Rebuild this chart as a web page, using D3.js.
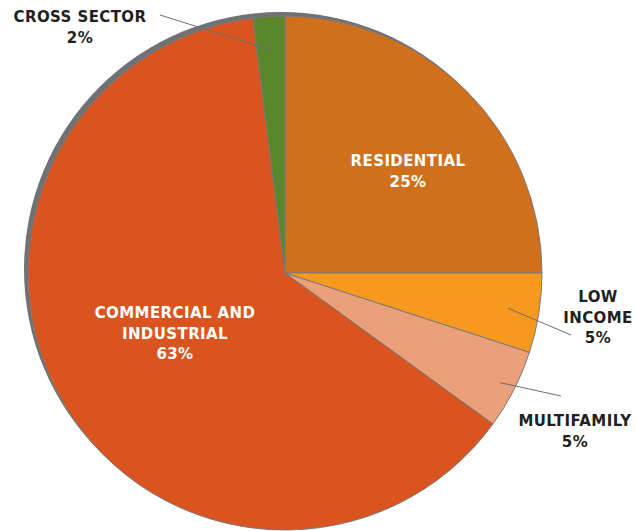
<!DOCTYPE html>
<html>
<head>
<meta charset="utf-8">
<script src="https://cdn.jsdelivr.net/npm/d3@7"></script>
<style>
  html, body { margin: 0; padding: 0; background: #fff; }
  svg text { font-family: "DejaVu Sans", sans-serif; font-weight: bold; font-size: 15px; letter-spacing: 0.4px; }
</style>
</head>
<body>
<svg id="chart" width="636" height="531"></svg>
<script>
// Program share by sector, clockwise from 12 o'clock
const sectors = ["Residential", "Low Income", "Multifamily", "Commercial and Industrial", "Cross Sector"];
const shares = [25, 5, 5, 63, 2];
const labelLines = [["RESIDENTIAL"], ["LOW", "INCOME"], ["MULTIFAMILY"], ["COMMERCIAL AND", "INDUSTRIAL"], ["CROSS SECTOR"]];
const colors = ["#D0701C", "#F7981F", "#EBA07A", "#D9541E", "#5B872B"];

const W = 636, H = 531;
const cx = 285, cy = 273, R = 257;

const svg = d3.select("#chart");
const g = svg.append("g").attr("transform", `translate(${cx},${cy})`);

// soft grey rim behind the pie, nudged up and to the left
g.append("circle")
  .attr("cx", -4).attr("cy", -4).attr("r", R)
  .attr("fill", "#707174");

const pie = d3.pie().sort(null).value(d => d)(shares);
const arc = d3.arc().innerRadius(0).outerRadius(R);

g.selectAll("path.slice")
  .data(pie)
  .join("path")
  .attr("class", "slice")
  .attr("d", arc)
  .attr("fill", (d, i) => colors[i])
  .attr("stroke", "#7a7a7c")
  .attr("stroke-width", 1);

// label layout: inside labels sit in the slice; outside labels get a leader line
const layout = [
  { inside: true, x: 408, y: 161 },
  { inside: false, x: 598, y: 297, lineR: 0.88, end: [571, 335] },
  { inside: false, x: 575, y: 421, lineR: 0.94, end: [561, 396] },
  { inside: true, x: 175, y: 313 },
  { inside: false, x: 80, y: 17, lineR: 0.87, end: [160, 15] }
];

const labels = svg.append("g");
pie.forEach((d, i) => {
  const L = layout[i];
  if (!L.inside) {
    const mid = (d.startAngle + d.endAngle) / 2;
    const r = R * L.lineR;
    labels.append("line")
      .attr("x1", cx + r * Math.sin(mid))
      .attr("y1", cy - r * Math.cos(mid))
      .attr("x2", L.end[0]).attr("y2", L.end[1])
      .attr("stroke", "#6d6e71").attr("stroke-width", 1);
  }
  const lines = labelLines[i].concat([shares[i] + "%"]);
  const t = labels.append("text")
    .attr("text-anchor", "middle")
    .attr("fill", L.inside ? "#ffffff" : "#231f20");
  lines.forEach((s, k) => {
    t.append("tspan")
      .attr("x", L.x)
      .attr("y", L.y + k * 20.5)
      .attr("dy", "0.36em")
      .text(s);
  });
});
</script>
</body>
</html>
